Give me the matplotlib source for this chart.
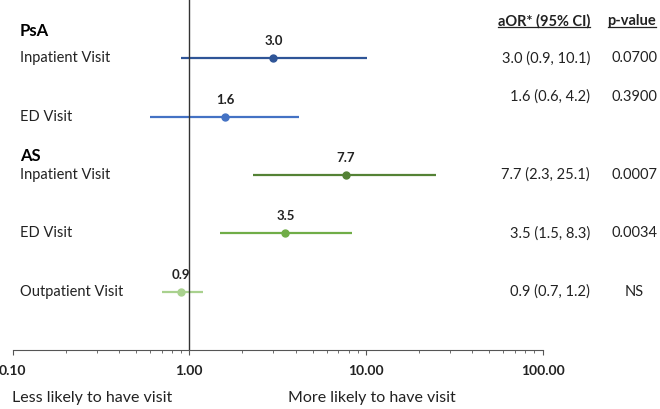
import numpy as np
import matplotlib
matplotlib.use('Agg')
import matplotlib.pyplot as plt
import matplotlib.transforms as mtransforms
from matplotlib.lines import Line2D

plt.rcParams['font.family'] = ['Lato', 'DejaVu Sans']

# Datos
groups = ['PsA', 'PsA', 'AS', 'AS', 'AS']
visits = ['Inpatient Visit', 'ED Visit', 'Inpatient Visit', 'ED Visit', 'Outpatient Visit']
aor = [3.0, 1.6, 7.7, 3.5, 0.9]
ci_low = [0.9, 0.6, 2.3, 1.5, 0.7]
ci_high = [10.1, 4.2, 25.1, 8.3, 1.2]
ci_text = ['3.0 (0.9, 10.1)', '1.6 (0.6, 4.2)', '7.7 (2.3, 25.1)', '3.5 (1.5, 8.3)', '0.9 (0.7, 1.2)']
pvals = ['0.0700', '0.3900', '0.0007', '0.0034', 'NS']
tick_vals = [0.1, 1, 10, 100]
tick_labels = ['0.10', '1.00', '10.00', '100.00']

colors = ['#2F5597', '#4472C4', '#548235', '#70AD47', '#A9D18E']
rows = [5, 4, 3, 2, 1]
text_rows = [5, 4.34, 3, 2, 1]

W, H = 660, 409
fig = plt.figure(figsize=(W / 100, H / 100), dpi=100)
ax = fig.add_axes([12.5 / W, 59 / H, 530 / W, 350 / H])
ax.set_xscale('log')
ax.set_xlim(0.1, 100)
ax.set_ylim(0, 6)

for y, m, lo, hi, c in zip(rows, aor, ci_low, ci_high, colors):
    ax.plot([lo, hi], [y, y], color=c, lw=1.6, solid_capstyle='butt')
    ax.plot(m, y, 'o', color=c, ms=5)
    ax.annotate(f'{m:.1f}', (m, y), xytext=(0, 8), textcoords='offset points',
                ha='center', va='bottom', fontsize=9.5, fontweight='bold', color='#222222')

ax.axvline(1, color='#333333', lw=1)

for s in ['top', 'right', 'left']:
    ax.spines[s].set_visible(False)
ax.spines['bottom'].set_color('#555555')
ax.set_yticks([])
ax.set_xticks(tick_vals)
ax.set_xticklabels(tick_labels, fontsize=10, fontweight='bold', color='#222222')
ax.tick_params(axis='x', which='major', direction='out', length=3.8, width=0.8, colors='#555555', pad=7)
ax.tick_params(axis='x', which='minor', direction='out', length=2.5, width=0.6, colors='#555555')
for lab in ax.get_xticklabels():
    lab.set_color('#222222')

trans = mtransforms.blended_transform_factory(fig.transFigure, ax.transData)

# Etiquetas de filas
ax.text(20 / W, 5.47, 'PsA', transform=trans, fontsize=12, fontweight='bold', va='center', ha='left')
ax.text(20 / W, 3.32, 'AS', transform=trans, fontsize=12, fontweight='bold', va='center', ha='left')
for y, v in zip(rows, visits):
    ax.text(20 / W, y, v, transform=trans, fontsize=10.5, va='center', ha='left', color='#222222')

# Columnas derechas
for y, t, p in zip(text_rows, ci_text, pvals):
    ax.text(590 / W, y, t, transform=trans, fontsize=10.5, va='center', ha='right', color='#222222')
    ax.text(634 / W, y, p, transform=trans, fontsize=10.5, va='center', ha='center', color='#222222')

h1 = ax.text(590 / W, 5.64, 'aOR* (95% CI)', transform=trans, fontsize=10.5, fontweight='bold',
             va='center', ha='right', color='#222222')
h2 = ax.text(632 / W, 5.64, 'p-value', transform=trans, fontsize=10.5, fontweight='bold',
             va='center', ha='center', color='#222222')

fig.text(92 / W, 1 - 398 / H, 'Less likely to have visit', fontsize=11.5, ha='center', va='center', color='#222222')
fig.text(372 / W, 1 - 398 / H, 'More likely to have visit', fontsize=11.5, ha='center', va='center', color='#222222')

# Subrayado de encabezados
fig.canvas.draw()
r = fig.canvas.get_renderer()
for t in [h1, h2]:
    bb = t.get_window_extent(renderer=r)
    yline = (bb.y0 + 1) / H
    fig.add_artist(Line2D([bb.x0 / W, bb.x1 / W], [yline, yline], color='#222222', lw=0.9))

fig.savefig('out.png', dpi=100, facecolor='white')
